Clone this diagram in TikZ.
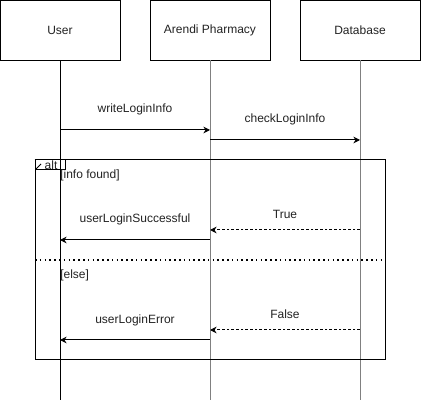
\documentclass[tikz,border=0pt]{standalone}
\usepackage{fontspec}
\setmainfont{Liberation Sans}
\usetikzlibrary{arrows.meta}
\definecolor{lifegray}{HTML}{808080}
\definecolor{txt}{HTML}{222222}

\begin{document}
\begin{tikzpicture}[x=0.75pt,y=-0.75pt,>={Stealth[length=5pt,width=5pt]},every node/.style={font=\fontsize{9}{11}\selectfont,text=txt},
  actor/.style={draw,minimum width=90pt,minimum height=45pt,inner sep=0pt},
  msg/.style={->,line width=0.75pt},
  reply/.style={->,line width=0.75pt,dash pattern=on 2pt off 1.5pt}]
\useasboundingbox (0,0) rectangle (421,402);
% participants
\node[actor] (user) at (60,30) {User};
\node[actor] (pharm) at (210,30) {Arendi Pharmacy};
\node[actor] (db) at (360,30) {Database};
\coordinate (userEnd) at (60,400);
\coordinate (pharmEnd) at (210,400);
\coordinate (dbEnd) at (360,400);
\draw[line width=0.75pt] (user.south)--(userEnd);
\draw[line width=0.75pt,lifegray] (pharm.south)--(pharmEnd);
\draw[line width=0.75pt,lifegray] (db.south)--(dbEnd);
% alt frame
\node[draw,line width=0.75pt,minimum width=262.5pt,minimum height=150pt,inner sep=0pt] (alt) at (210,260) {};
\draw[line width=0.75pt] (alt.north west)--++(31,0)--++(0,10)--++(-31,0);
\draw[line width=0.75pt] (36,169)--(41,164);
\node (altlbl) at (51,165) {alt};
\node[anchor=west,inner sep=0pt] (found) at (60,175) {[info found]};
\node[anchor=west,inner sep=0pt] (else) at (60,275) {[else]};
\coordinate (sepL) at (35,260);
\coordinate (sepR) at (385,260);
\draw[line width=1.2pt,dash pattern=on 1.2pt off 2.4pt] (sepL)--(sepR);
% messages
\coordinate (u1) at (60,130); \coordinate (p1) at (210,130);
\coordinate (p2) at (210,140); \coordinate (d2) at (360,140);
\coordinate (d3) at (360,230); \coordinate (p3) at (210,230);
\coordinate (p4) at (210,240); \coordinate (u4) at (60,240);
\coordinate (d5) at (360,330); \coordinate (p5) at (210,330);
\coordinate (p6) at (210,340); \coordinate (u6) at (60,340);
\draw[msg] (u1)--(p1);
\draw[msg] (p2)--(d2);
\draw[reply] (d3)--(p3);
\draw[msg] (p4)--(u4);
\draw[reply] (d5)--(p5);
\draw[msg] (p6)--(u6);
\node (m1) at (135,109) {writeLoginInfo};
\node (m2) at (285,119) {checkLoginInfo};
\node (m3) at (285,214) {True};
\node (m4) at (135,219) {userLoginSuccessful};
\node (m5) at (285,314) {False};
\node (m6) at (135,320) {userLoginError};
\end{tikzpicture}
\end{document}
